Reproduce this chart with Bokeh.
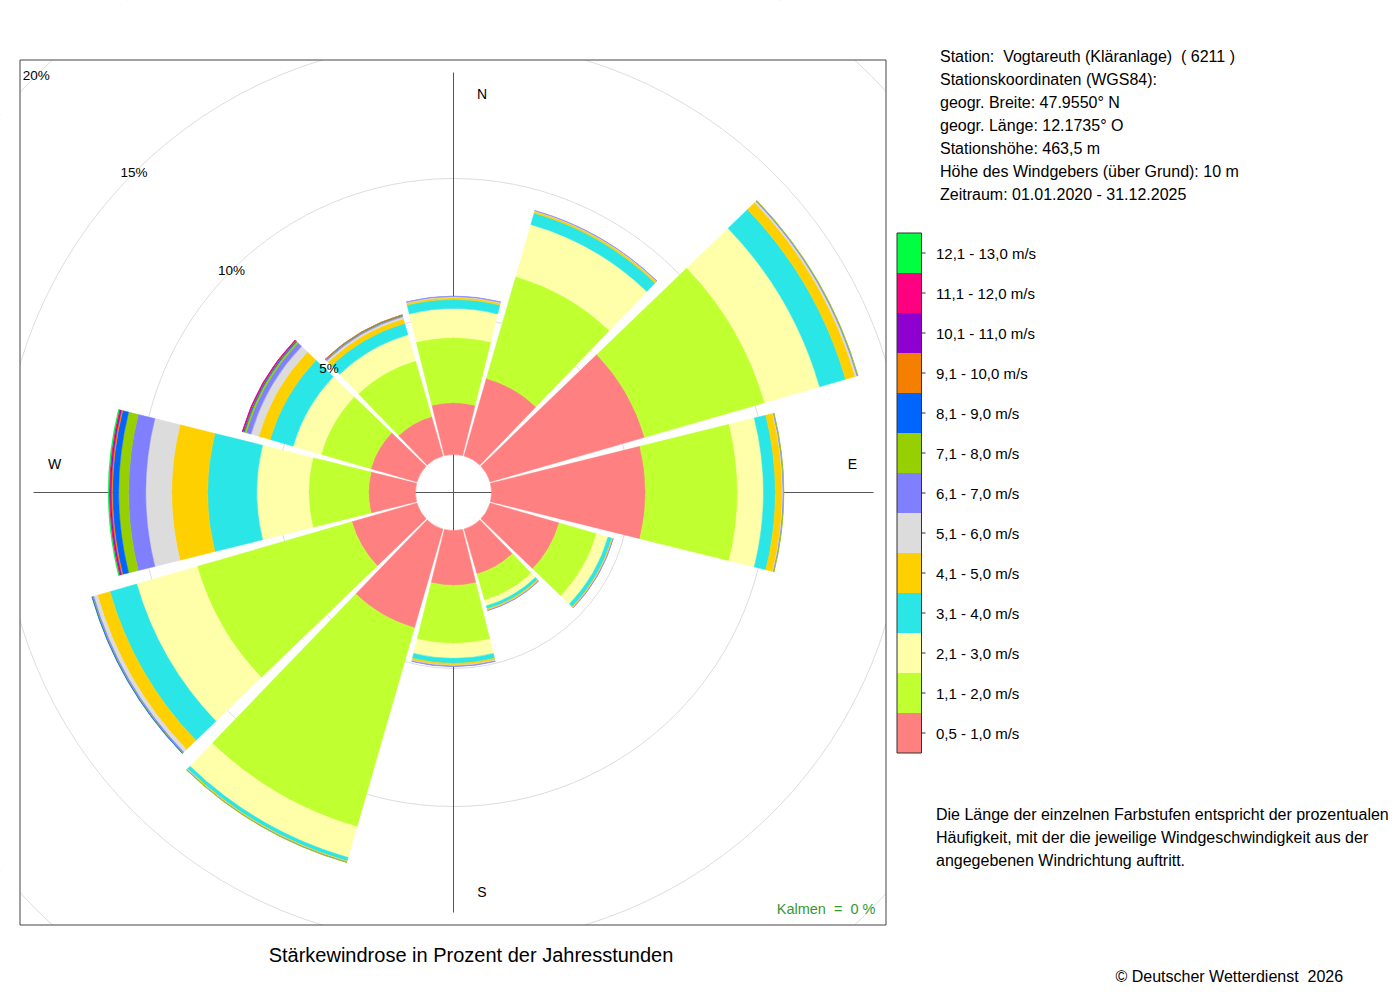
import numpy as np
from bokeh.plotting import figure
from bokeh.models import Range1d, ColumnDataSource
from bokeh.layouts import row, column
from bokeh.embed import file_html
from bokeh.resources import INLINE
from bokeh.core.properties import value

# ---------------------------------------------------------------- data
directions_deg = [0, 30, 60, 90, 120, 150, 180, 210, 240, 270, 300, 330]
compass_labels = ["N", "E", "S", "W"]
compass_deg = [0, 90, 180, 270]

speed_classes = ["0,5 - 1,0 m/s", "1,1 - 2,0 m/s", "2,1 - 3,0 m/s", "3,1 - 4,0 m/s",
                 "4,1 - 5,0 m/s", "5,1 - 6,0 m/s", "6,1 - 7,0 m/s", "7,1 - 8,0 m/s",
                 "8,1 - 9,0 m/s", "9,1 - 10,0 m/s", "10,1 - 11,0 m/s",
                 "11,1 - 12,0 m/s", "12,1 - 13,0 m/s"]
class_colors = ["#FF8080", "#C0FF30", "#FFFFAA", "#2AE6E6", "#FFD000", "#DCDCDC",
                "#8080FF", "#96D000", "#0064FF", "#F58000", "#8E00D0", "#FF0080",
                "#00FF40"]

# percent of the hours of the year, per direction (order of directions_deg)
pct_05_10 = [1.88, 2.93, 5.83, 5.58, 2.61, 1.70, 1.99, 3.73, 2.46, 1.70, 1.74, 1.49]
pct_11_20 = [2.36, 3.84, 4.53, 3.33, 1.41, 0.98, 2.10, 7.50, 5.83, 2.17, 1.88, 2.10]
pct_21_30 = [1.05, 1.96, 2.07, 0.94, 0.43, 0.22, 0.54, 1.16, 2.28, 1.88, 1.05, 0.98]
pct_31_40 = [0.33, 0.43, 0.98, 0.43, 0.14, 0.11, 0.18, 0.13, 1.01, 1.78, 0.87, 0.43]
pct_41_50 = [0.07, 0.07, 0.36, 0.25, 0.04, 0.05, 0.07, 0.03, 0.47, 1.30, 0.43, 0.18]
pct_51_60 = [0.03, 0.02, 0.07, 0.03, 0.01, 0.01, 0.03, 0.01, 0.14, 0.94, 0.29, 0.07]
pct_61_70 = [0.02, 0.01, 0.03, 0.02, 0.01, 0.01, 0.02, 0.01, 0.04, 0.62, 0.18, 0.04]
pct_71_80 = [0.00, 0.00, 0.01, 0.01, 0.00, 0.00, 0.00, 0.01, 0.02, 0.36, 0.07, 0.02]
pct_81_90 = [0.00, 0.00, 0.00, 0.00, 0.00, 0.00, 0.00, 0.00, 0.01, 0.22, 0.04, 0.01]
pct_91_100 = [0.00, 0.00, 0.00, 0.00, 0.00, 0.00, 0.00, 0.00, 0.00, 0.05, 0.02, 0.01]
pct_101_110 = [0.00, 0.00, 0.00, 0.00, 0.00, 0.00, 0.00, 0.00, 0.00, 0.04, 0.01, 0.00]
pct_111_120 = [0.00, 0.00, 0.00, 0.00, 0.00, 0.00, 0.00, 0.00, 0.00, 0.04, 0.01, 0.00]
pct_121_130 = [0.00, 0.00, 0.00, 0.00, 0.00, 0.00, 0.00, 0.00, 0.00, 0.03, 0.00, 0.00]
speed_values = [pct_05_10, pct_11_20, pct_21_30, pct_31_40, pct_41_50, pct_51_60,
                pct_61_70, pct_71_80, pct_81_90, pct_91_100, pct_101_110,
                pct_111_120, pct_121_130]

ring_pct = [5, 10, 15, 20]
ring_labels = ["5%", "10%", "15%", "20%"]
calm_pct = 0

NB = " \u00a0"   # double space that survives SVG whitespace collapsing
station_lines = ["Station:" + NB + "Vogtareuth (Kläranlage)" + NB + "( 6211 )",
                 "Stationskoordinaten (WGS84):",
                 "geogr. Breite: 47.9550° N",
                 "geogr. Länge: 12.1735° O",
                 "Stationshöhe: 463,5 m",
                 "Höhe des Windgebers (über Grund): 10 m",
                 "Zeitraum: 01.01.2020 - 31.12.2025"]
note_lines = ["Die Länge der einzelnen Farbstufen entspricht der prozentualen",
              "Häufigkeit, mit der die jeweilige Windgeschwindigkeit aus der",
              "angegebenen Windrichtung auftritt."]
title_text = "Stärkewindrose in Prozent der Jahresstunden"
copyright_text = "© Deutscher Wetterdienst" + NB + "2026"
calm_text = "Kalmen" + NB + "=" + NB + f"{calm_pct} %"

# ---------------------------------------------------------------- geometry / style
PX = 27.6              # pixels per percent
R0 = 38.0 / PX         # radius of the calm circle, in percent units
HALF = np.deg2rad(13.9)
CX, CY = 453.0, 492.0  # page pixel of the rose centre (text placement only)
FONT = value("Liberation Sans")
WA, HA = 891, 926      # rose canvas
FL, FT, FR, FB = 19.5, 59.5, 885.5, 924.5   # rose frame box (page px)


def ax(px):
    return (px - CX) / PX


def ay(py):
    return (CY - py) / PX


def bare(p):
    p.grid.visible = False
    p.outline_line_color = None
    p.background_fill_color = "white"
    p.border_fill_color = "white"


# ---------------------------------------------------------------- wind rose
pA = figure(width=WA, height=HA, min_border=0,
            x_range=Range1d(ax(0), ax(WA)), y_range=Range1d(ay(HA), ay(0)),
            x_axis_location=None, y_axis_location=None, toolbar_location=None,
            output_backend="svg", title=None)
bare(pA)

ring_r = [R0 + p for p in ring_pct]
pA.circle(x=[0] * len(ring_r), y=[0] * len(ring_r), radius=ring_r,
          fill_color=None, line_color="#DDDDDD", line_width=1)

L = 420.0 / PX
pA.segment(x0=[0, -L], y0=[-L, 0], x1=[0, L], y1=[L, 0],
           line_color="#555555", line_width=1)

vals = np.array(speed_values, dtype=float)
cum = np.cumsum(vals, axis=0)
theta = np.deg2rad(90.0 - np.array(directions_deg, dtype=float))
wd = dict(inner=[], outer=[], start=[], end=[], color=[])
for k in range(vals.shape[0]):
    for j in range(vals.shape[1]):
        if vals[k, j] <= 0:
            continue
        wd["inner"].append(R0 + cum[k, j] - vals[k, j])
        wd["outer"].append(R0 + cum[k, j])
        wd["start"].append(theta[j] - HALF)
        wd["end"].append(theta[j] + HALF)
        wd["color"].append(class_colors[k])
pA.annular_wedge(x=0, y=0, inner_radius="inner", outer_radius="outer",
                 start_angle="start", end_angle="end",
                 fill_color="color", line_color="color", line_width=0.5,
                 source=ColumnDataSource(wd))

# white margins outside the rose frame (clip the grid circles)
pA.quad(left=[ax(0), ax(FR), ax(0), ax(0)],
        right=[ax(FL), ax(WA), ax(WA), ax(WA)],
        bottom=[ay(HA), ay(HA), ay(FT), ay(HA)],
        top=[ay(0), ay(0), ay(0), ay(FB)],
        fill_color="white", line_color=None)
pA.quad(left=[ax(FL)], right=[ax(FR)], bottom=[ay(FB)], top=[ay(FT)],
        fill_color=None, line_color="#444444", line_width=1)

# compass letters
cd = np.deg2rad(np.array(compass_deg, dtype=float))
lab_x = [ax(CX + 399 * np.sin(a) + (28.5 if d in (0, 180) else 0))
         for a, d in zip(cd, compass_deg)]
lab_y = [ay(CY - 399 * np.cos(a) - (29 if d in (90, 270) else 0))
         for a, d in zip(cd, compass_deg)]
pA.text(x=lab_x, y=lab_y, text=compass_labels, text_font=FONT,
        text_font_size="14px", text_align="center", text_baseline="middle",
        text_color="#000000")

# ring percent labels on the NW diagonal
d45 = np.sqrt(0.5)
pA.text(x=[-r * d45 for r in ring_r], y=[r * d45 for r in ring_r], text=ring_labels,
        text_font=FONT, text_font_size="13.5px", text_align="center",
        text_baseline="middle", text_color="#000000")

pA.text(x=[ax(875)], y=[ay(908)], text=[calm_text],
        text_font=FONT, text_font_size="14.5px", text_align="right",
        text_baseline="middle", text_color="#339933")

# ---------------------------------------------------------------- right panel (page px)
WB = 501
pB = figure(width=WB, height=HA, min_border=0,
            x_range=Range1d(WA, WA + WB), y_range=Range1d(HA, 0),
            x_axis_location=None, y_axis_location=None, toolbar_location=None,
            output_backend="svg", title=None)
bare(pB)

pB.text(x=[939.5] * len(station_lines),
        y=[55.5 + 23.1 * i for i in range(len(station_lines))],
        text=station_lines, text_font=FONT, text_font_size="16px",
        text_align="left", text_baseline="middle", text_color="#000000")

n = len(speed_classes)
cb_left, cb_right = 896.5, 921.0
cb_bottom, blk = 752.5, 40.0
tops = [cb_bottom - blk * (i + 1) for i in range(n)]
bots = [cb_bottom - blk * i for i in range(n)]
mids = [cb_bottom - blk * (i + 0.5) for i in range(n)]
pB.quad(left=cb_left, right=cb_right, top=tops, bottom=bots,
        fill_color=class_colors, line_color=None)
pB.quad(left=[cb_left], right=[cb_right], top=[tops[-1]], bottom=[cb_bottom],
        fill_color=None, line_color="#333333", line_width=1)
pB.segment(x0=[cb_right] * n, y0=mids, x1=[cb_right + 4] * n, y1=mids,
           line_color="#333333", line_width=1)
pB.text(x=[935.5] * n, y=[m + 0.5 for m in mids], text=speed_classes,
        text_font=FONT, text_font_size="15px", text_align="left",
        text_baseline="middle", text_color="#000000")

pB.text(x=[935.5] * len(note_lines),
        y=[814 + 23.0 * i for i in range(len(note_lines))],
        text=note_lines, text_font=FONT, text_font_size="16px",
        text_align="left", text_baseline="middle", text_color="#000000")

# ---------------------------------------------------------------- bottom strip (page px)
WC, HC = WA + WB, 70
pC = figure(width=WC, height=HC, min_border=0,
            x_range=Range1d(0, WC), y_range=Range1d(HA + HC, HA),
            x_axis_location=None, y_axis_location=None, toolbar_location=None,
            output_backend="svg", title=None)
bare(pC)
pC.text(x=[470.5], y=[954], text=[title_text], text_font=FONT,
        text_font_size="20px", text_align="center", text_baseline="middle",
        text_color="#000000")
pC.text(x=[1115], y=[976], text=[copyright_text], text_font=FONT,
        text_font_size="16px", text_align="left", text_baseline="middle",
        text_color="#000000")

layout = column(row(pA, pB), pC)
open("out.html", "w").write(file_html(layout, INLINE, title="Stärkewindrose"))
